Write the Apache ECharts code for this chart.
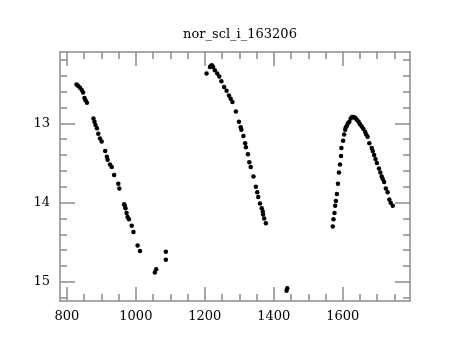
<!DOCTYPE html>
<html>
<head>
<meta charset="utf-8">
<script src="https://cdn.jsdelivr.net/npm/echarts@6/dist/echarts.min.js"></script>
<style>
  html, body { margin: 0; padding: 0; background: #fff; }
  #chart { width: 460px; height: 340px; }
</style>
</head>
<body>
<div id="chart"></div>
<script>
// light curve
var segAx = [828, 833, 838, 843, 847, 851, 854, 858, 877, 880, 883, 887, 891, 896, 901, 911, 916, 918, 925, 930, 937, 949, 952, 966, 968, 970, 973, 976, 980, 988, 993, 1005, 1012, 1055, 1059, 1087, 1087];
var segAy = [12.51, 12.53, 12.55, 12.58, 12.61, 12.68, 12.71, 12.74, 12.94, 12.98, 13.02, 13.06, 13.13, 13.19, 13.23, 13.35, 13.42, 13.46, 13.52, 13.55, 13.65, 13.76, 13.82, 14.02, 14.04, 14.07, 14.13, 14.18, 14.21, 14.29, 14.37, 14.54, 14.61, 14.88, 14.84, 14.62, 14.72];

var segBx = [1205, 1215, 1217, 1219, 1221, 1224, 1229, 1236, 1242, 1248, 1256, 1263, 1270, 1275, 1280, 1290, 1299, 1304, 1306, 1312, 1317, 1319, 1325, 1329, 1333, 1341, 1348, 1352, 1355, 1360, 1365, 1368, 1369, 1372, 1377];
var segBy = [12.37, 12.29, 12.28, 12.27, 12.27, 12.29, 12.33, 12.37, 12.41, 12.47, 12.54, 12.59, 12.65, 12.69, 12.73, 12.85, 12.98, 13.05, 13.08, 13.16, 13.25, 13.30, 13.39, 13.49, 13.55, 13.67, 13.80, 13.87, 13.93, 14.01, 14.07, 14.11, 14.15, 14.20, 14.26];

var segCx = [1437, 1439];
var segCy = [15.11, 15.08];

var segDx = [1571, 1573, 1576, 1578, 1580, 1583, 1586, 1589, 1592, 1595, 1596, 1601, 1604, 1607, 1609, 1612, 1615, 1619, 1623, 1627, 1631, 1635, 1638, 1642, 1646, 1650, 1655, 1660, 1665, 1668, 1672, 1677, 1684, 1687, 1691, 1695, 1699, 1705, 1709, 1713, 1716, 1720, 1725, 1730, 1735, 1739, 1745];
var segDy = [14.30, 14.21, 14.13, 14.04, 13.98, 13.89, 13.76, 13.62, 13.52, 13.41, 13.31, 13.22, 13.14, 13.08, 13.05, 13.03, 13.00, 12.98, 12.94, 12.92, 12.92, 12.93, 12.94, 12.96, 12.98, 13.01, 13.04, 13.07, 13.11, 13.14, 13.17, 13.25, 13.31, 13.35, 13.40, 13.45, 13.50, 13.57, 13.62, 13.67, 13.70, 13.74, 13.82, 13.87, 13.96, 14.00, 14.04];

var xMajor = [800, 1000, 1200, 1400, 1600];
var xMinor = [800, 850, 900, 950, 1000, 1050, 1100, 1150, 1200, 1250, 1300, 1350, 1400, 1450, 1500, 1550, 1600, 1650, 1700, 1750];
var yMajor = [13, 14, 15];
var yMinor = [12.2, 12.4, 12.6, 12.8, 13, 13.2, 13.4, 13.6, 13.8, 14, 14.2, 14.4, 14.6, 14.8, 15, 15.2];

var points = [];
[[segAx, segAy], [segBx, segBy], [segCx, segCy], [segDx, segDy]].forEach(function (s) {
  for (var i = 0; i < s[0].length; i++) {
    points.push([s[0][i], s[1][i]]);
  }
});

var font = 'DejaVu Serif';
var axisGray = '#8c8c8c';
var xMin = 780, xMax = 1795;
var yMin = 12.1, yMax = 15.24;

function plain(v) { return String(v); }

function xAx(pos, ticks, len, withLine, withLabel) {
  return {
    type: 'value', position: pos, min: xMin, max: xMax,
    axisLine: { show: withLine, lineStyle: { color: axisGray, width: 1.5 } },
    axisTick: { show: true, inside: true, length: len, customValues: ticks, lineStyle: { color: axisGray, width: 1.5 } },
    axisLabel: withLabel ? { show: true, customValues: xMajor, formatter: plain, margin: 9, color: '#000', fontFamily: font, fontSize: 13 } : { show: false },
    splitLine: { show: false }
  };
}

function yAx(pos, ticks, len, withLine, withLabel) {
  return {
    type: 'value', position: pos, min: yMin, max: yMax, inverse: true,
    axisLine: { show: withLine, lineStyle: { color: axisGray, width: 1.5 } },
    axisTick: { show: true, inside: true, length: len, customValues: ticks, lineStyle: { color: axisGray, width: 1.5 } },
    axisLabel: withLabel ? { show: true, customValues: yMajor, formatter: plain, margin: 10, color: '#000', fontFamily: font, fontSize: 13 } : { show: false },
    splitLine: { show: false }
  };
}

var chart = echarts.init(document.getElementById('chart'));

var option = {
  animation: false,
  backgroundColor: '#fff',
  title: {
    text: 'nor_scl_i_163206',
    left: 235, top: 23, textAlign: 'center',
    textStyle: { fontFamily: font, fontSize: 13, fontWeight: 'normal', color: '#000' }
  },
  grid: { left: 60, right: 50, top: 52, bottom: 39 },
  xAxis: [
    xAx('bottom', xMajor, 14, true, true),
    xAx('bottom', xMinor, 7, false, false),
    xAx('top', xMajor, 14, true, false),
    xAx('top', xMinor, 7, false, false)
  ],
  yAxis: [
    yAx('left', yMajor, 15, true, true),
    yAx('left', yMinor, 7, false, false),
    yAx('right', yMajor, 15, true, false),
    yAx('right', yMinor, 7, false, false)
  ],
  series: [
    {
      type: 'scatter',
      xAxisIndex: 0,
      yAxisIndex: 0,
      symbolSize: 4.5,
      itemStyle: { color: '#000', opacity: 1 },
      data: points
    }
  ]
};

chart.setOption(option);
</script>
</body>
</html>
